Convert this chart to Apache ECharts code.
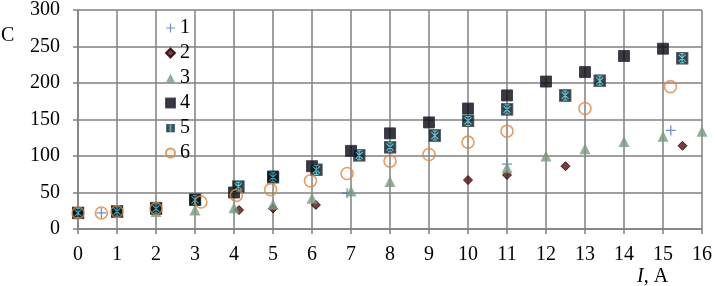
<!DOCTYPE html>
<html>
<head>
<meta charset="utf-8">
<script src="https://cdn.jsdelivr.net/npm/echarts@6/dist/echarts.min.js"></script>
<style>
html,body{margin:0;padding:0;background:#fff;}
#c{width:715px;height:286px;}
</style>
</head>
<body>
<div id="c"></div>
<script>
// ---- data (x = I in A, y = C) ----
var seriesNames = ['1', '2', '3', '4', '5', '6'];
var xTicks = [0, 16, 1];   // min, max, interval
var yTicks = [0, 300, 50]; // min, max, interval

var series1 = [[0.6, 22], [6.9, 49], [11, 89], [15.2, 135]];
var series2 = [[4.13, 26], [5, 28], [6.1, 33], [10, 67], [11, 74], [12.5, 86], [15.5, 114]];
var series3 = [[0, 21], [2, 24], [3, 26], [4, 29], [5, 34], [6, 42], [7, 52], [8, 65], [11, 84], [12, 100], [13, 110], [14, 120], [15, 127], [16, 134]];
var series4 = [[0, 22], [1, 24], [2, 29], [3, 40], [4, 50], [5, 72], [6, 86], [7, 107], [8, 131], [9, 146], [10, 165], [11, 183], [12, 202], [13, 215], [14, 237], [15, 247]];
var series5 = [[0, 22], [1, 24], [2, 28], [3, 40], [4.11, 58], [5, 71], [6.11, 81], [7.21, 101], [8, 112], [9.15, 128], [10, 148], [11, 164], [12.49, 183], [13.38, 203], [15.49, 234]];
var series6 = [[0, 22], [0.6, 22], [1, 24], [2, 28], [3.15, 37], [4.06, 46], [4.94, 54], [5.96, 66], [6.9, 76], [8, 93], [9, 102], [10, 119], [11, 134], [13, 165], [15.19, 195]];

var starSquare = 'image://data:image/svg+xml;utf8,' + encodeURIComponent(
  '<svg xmlns="http://www.w3.org/2000/svg" width="26" height="26" viewBox="0 0 26 26">' +
  '<rect x="1" y="1" width="24" height="24" fill="#07141a" stroke="#2f4650" stroke-width="2"/>' +
  '<path d="M6 6L20 20M20 6L6 20M13 4V22M8.5 4H17.5M8.5 22H17.5" stroke="#3cc0d6" stroke-width="2.1" fill="none"/>' +
  '</svg>');

var font = 'Liberation Serif';
var chart = echarts.init(document.getElementById('c'), null, {renderer: 'canvas'});

var gridLine = {show: true, lineStyle: {color: '#808080', width: 1.5}};
var axisLine = {show: true, lineStyle: {color: '#808080', width: 1.5}};

chart.setOption({
  animation: false,
  backgroundColor: '#fff',
  textStyle: {fontFamily: font},
  grid: {left: 78, right: 10, top: 7, bottom: 57, containLabel: false},
  xAxis: {
    type: 'value', min: xTicks[0], max: xTicks[1], interval: xTicks[2],
    axisLine: axisLine,
    axisTick: {show: true, inside: false, length: 5, lineStyle: {color: '#808080', width: 1.5}},
    splitLine: gridLine,
    axisLabel: {color: '#000', fontSize: 20, fontFamily: font, margin: 16}
  },
  yAxis: {
    type: 'value', min: yTicks[0], max: yTicks[1], interval: yTicks[2],
    axisLine: axisLine,
    axisTick: {show: true, inside: false, length: 5, lineStyle: {color: '#808080', width: 1.5}},
    splitLine: gridLine,
    axisLabel: {color: '#000', fontSize: 20, fontFamily: font, margin: 18}
  },
  legend: {
    orient: 'vertical', left: 160, top: 13,
    itemWidth: 9, itemHeight: 9, itemGap: 5,
    textStyle: {color: '#000', fontSize: 20, fontFamily: font},
    data: seriesNames
  },
  graphic: [
    {type: 'text', left: 1, top: 26, style: {text: 'C', font: '20px "Liberation Serif"', fill: '#000'}},
    {type: 'text', left: 637, top: 267, style: {
      text: '{i|I}, A', font: '20px "Liberation Serif"', fill: '#000',
      rich: {i: {fontStyle: 'italic', fontSize: 20, fontFamily: font}}
    }}
  ],
  series: [
    {name: seriesNames[0], type: 'scatter', data: series1,
     symbol: 'path://M4,0h1.2v9.2h-1.2z M0,4h9.2v1.2h-9.2z', symbolSize: 10,
     itemStyle: {color: '#4a74c0'}},
    {name: seriesNames[1], type: 'scatter', data: series2,
     symbol: 'diamond', symbolSize: 9,
     itemStyle: {color: '#5c0d0d', borderColor: '#1a0000', borderWidth: 1}},
    {name: seriesNames[2], type: 'scatter', data: series3,
     symbol: 'triangle', symbolSize: 11,
     itemStyle: {color: '#779c7f'}},
    {name: seriesNames[3], type: 'scatter', data: series4,
     symbol: 'rect', symbolSize: 11,
     itemStyle: {color: '#08080f', borderColor: '#2c2c44', borderWidth: 1}},
    {name: seriesNames[4], type: 'scatter', data: series5,
     symbol: starSquare, symbolSize: 13},
    {name: seriesNames[5], type: 'scatter', data: series6,
     symbol: 'circle', symbolSize: 12,
     itemStyle: {color: 'rgba(255,255,255,0)', borderColor: '#e0843a', borderWidth: 1.6}}
  ]
});
</script>
</body>
</html>
